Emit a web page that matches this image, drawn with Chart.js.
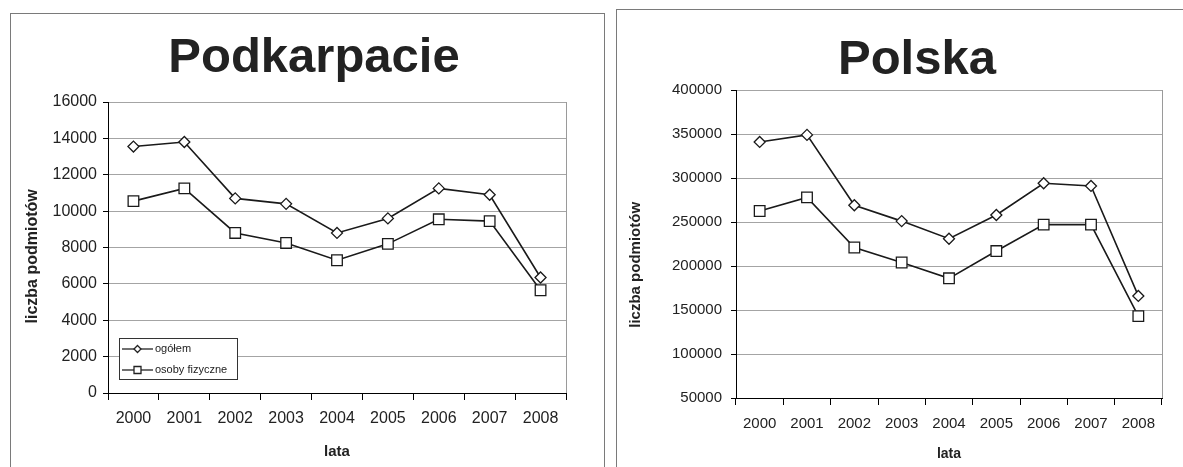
<!DOCTYPE html>
<html lang="pl">
<head>
<meta charset="utf-8">
<title>Podkarpacie / Polska</title>
<script src="https://cdn.jsdelivr.net/npm/chart.js"></script>
<style>
  html, body { margin: 0; padding: 0; background: #fff; overflow: hidden; }
  body { width: 1183px; height: 467px; position: relative; font-family: "Liberation Sans", Arial, sans-serif; }
  .panel { position: absolute; border: 1px solid #7a7a7a; box-sizing: border-box; overflow: hidden; background: #fff; }
  .panel h1 { position: absolute; margin: 0; font-size: 49px; font-weight: bold; color: #222; white-space: nowrap; transform: translateX(-50%); line-height: 1; z-index: 2; }
  .panel canvas { position: absolute; left: 0; top: 0; }
</style>
</head>
<body>

<div class="panel" style="left:10px; top:13px; width:595px; height:470px;">
  <h1 style="left:303px; top:17px;">Podkarpacie</h1>
  <canvas id="chartPodkarpacie" width="592" height="455"></canvas>
</div>

<div class="panel" style="left:616px; top:9px; width:600px; height:470px;">
  <h1 style="left:300px; top:23px;">Polska</h1>
  <canvas id="chartPolska" width="566" height="457"></canvas>
</div>

<script>
const lata = ['2000', '2001', '2002', '2003', '2004', '2005', '2006', '2007', '2008'];
const seriesNames = ['ogółem', 'osoby fizyczne'];

const podkarpacieOgolem = [13550, 13800, 10700, 10400, 8800, 9600, 11250, 10900, 6350];
const podkarpacieOsoby  = [10550, 11250, 8800, 8250, 7300, 8200, 9550, 9450, 5650];

const polskaOgolem = [341000, 349000, 269000, 251000, 231000, 258000, 294000, 291000, 166000];
const polskaOsoby  = [262500, 278000, 221000, 204000, 186000, 217000, 247000, 247000, 143000];

Chart.defaults.font.family = '"Liberation Sans", Arial, sans-serif';
Chart.defaults.color = '#222';

// gray border on the right side of the plot area
const plotBorder = {
  id: 'plotBorder',
  beforeDatasetsDraw(chart) {
    const { ctx, chartArea: a } = chart;
    ctx.save();
    ctx.strokeStyle = '#9a9a9a';
    ctx.lineWidth = 1;
    ctx.beginPath();
    ctx.moveTo(a.right + 0.5, a.top);
    ctx.lineTo(a.right + 0.5, a.bottom);
    ctx.stroke();
    ctx.restore();
  }
};

// small boxed legend inside the plot, bottom-left
const innerLegend = {
  id: 'innerLegend',
  afterDatasetsDraw(chart, args, opts) {
    if (!opts.display) return;
    const { ctx, chartArea: a } = chart;
    const x = a.left + opts.offsetX;
    const y = a.bottom - opts.offsetY - opts.height;
    ctx.save();
    ctx.fillStyle = '#fff';
    ctx.fillRect(x, y, opts.width, opts.height);
    ctx.strokeStyle = '#333';
    ctx.lineWidth = 1;
    ctx.strokeRect(x + 0.5, y + 0.5, opts.width, opts.height);
    ctx.font = '11px "Liberation Sans", Arial, sans-serif';
    ctx.textBaseline = 'middle';
    chart.data.datasets.forEach((ds, i) => {
      const cy = y + 11 + i * 21;
      ctx.strokeStyle = '#222';
      ctx.lineWidth = 1.3;
      ctx.beginPath();
      ctx.moveTo(x + 3, cy);
      ctx.lineTo(x + 34, cy);
      ctx.stroke();
      const mx = x + 18.5;
      ctx.fillStyle = '#fff';
      ctx.beginPath();
      if (ds.pointStyle === 'rectRot') {
        ctx.moveTo(mx, cy - 3.5); ctx.lineTo(mx + 3.5, cy);
        ctx.lineTo(mx, cy + 3.5); ctx.lineTo(mx - 3.5, cy);
        ctx.closePath();
      } else {
        ctx.rect(mx - 3.5, cy - 3.5, 7, 7);
      }
      ctx.fill();
      ctx.stroke();
      ctx.fillStyle = '#222';
      ctx.fillText(ds.label, x + 36, cy);
    });
    ctx.restore();
  }
};

function makeChart(id, ogolem, osoby, cfg) {
  const line = {
    borderColor: '#1a1a1a',
    borderWidth: 1.6,
    pointBackgroundColor: '#fff',
    pointBorderColor: '#1a1a1a',
    pointBorderWidth: 1.3,
    tension: 0,
    fill: false
  };
  return new Chart(document.getElementById(id), {
    type: 'line',
    data: {
      labels: lata,
      datasets: [
        Object.assign({ label: seriesNames[0], data: ogolem, pointStyle: 'rectRot', pointRadius: 5.5 }, line),
        Object.assign({ label: seriesNames[1], data: osoby, pointStyle: 'rect', pointRadius: 7.5 }, line)
      ]
    },
    plugins: [plotBorder, innerLegend],
    options: {
      responsive: false,
      animation: false,
      layout: { padding: cfg.padding },
      plugins: {
        legend: { display: false },
        tooltip: { enabled: false },
        innerLegend: cfg.legend
      },
      scales: {
        x: {
          offset: true,
          grid: { offset: true, drawOnChartArea: false, color: '#000', tickLength: 7 },
          border: { color: '#000', width: 1 },
          ticks: { font: { size: cfg.tickSize }, padding: cfg.xPad, maxRotation: 0, color: '#222' },
          title: { display: true, text: 'lata', font: { size: cfg.titleSize, weight: 'bold' }, padding: { top: 0, bottom: 0 }, color: '#222' },
          afterFit(scale) { scale.height = cfg.xHeight; }
        },
        y: {
          min: cfg.min,
          max: cfg.max,
          grid: {
            color: c => c.index === 0 ? 'rgba(0,0,0,0)' : '#a4a4a4',
            tickColor: '#000',
            tickLength: 5
          },
          border: { color: '#000', width: 1 },
          ticks: { stepSize: cfg.step, font: { size: cfg.tickSize }, padding: cfg.yPad, color: '#222', callback: v => String(v) },
          title: { display: true, text: cfg.yTitle, font: { size: cfg.yTitleSize, weight: 'bold' }, padding: { top: cfg.yTitlePad, bottom: 0 }, color: '#222' },
          afterFit(scale) { scale.width = cfg.yWidth; }
        }
      }
    }
  });
}

makeChart('chartPodkarpacie', podkarpacieOgolem, podkarpacieOsoby, {
  padding: { left: 0, right: 37, top: 88, bottom: 8 },
  min: 0, max: 16000, step: 2000,
  tickSize: 16, titleSize: 15, xPad: 9, yPad: 6,
  xHeight: 68, yWidth: 97,
  yTitle: 'liczba podmiotów\u00a0\u00a0\u00a0\u00a0', yTitleSize: 16, yTitlePad: 12,
  legend: { display: true, offsetX: 11, offsetY: 14, width: 118, height: 41 }
});

makeChart('chartPolska', polskaOgolem, polskaOsoby, {
  padding: { left: 0, right: 21, top: 80, bottom: 4 },
  min: 50000, max: 400000, step: 50000,
  tickSize: 15, titleSize: 14, xPad: 10, yPad: 9,
  xHeight: 65, yWidth: 119,
  yTitle: 'liczba podmiotów' + '\u00a0'.repeat(10), yTitleSize: 15, yTitlePad: 10,
  legend: { display: false }
});
</script>
</body>
</html>
